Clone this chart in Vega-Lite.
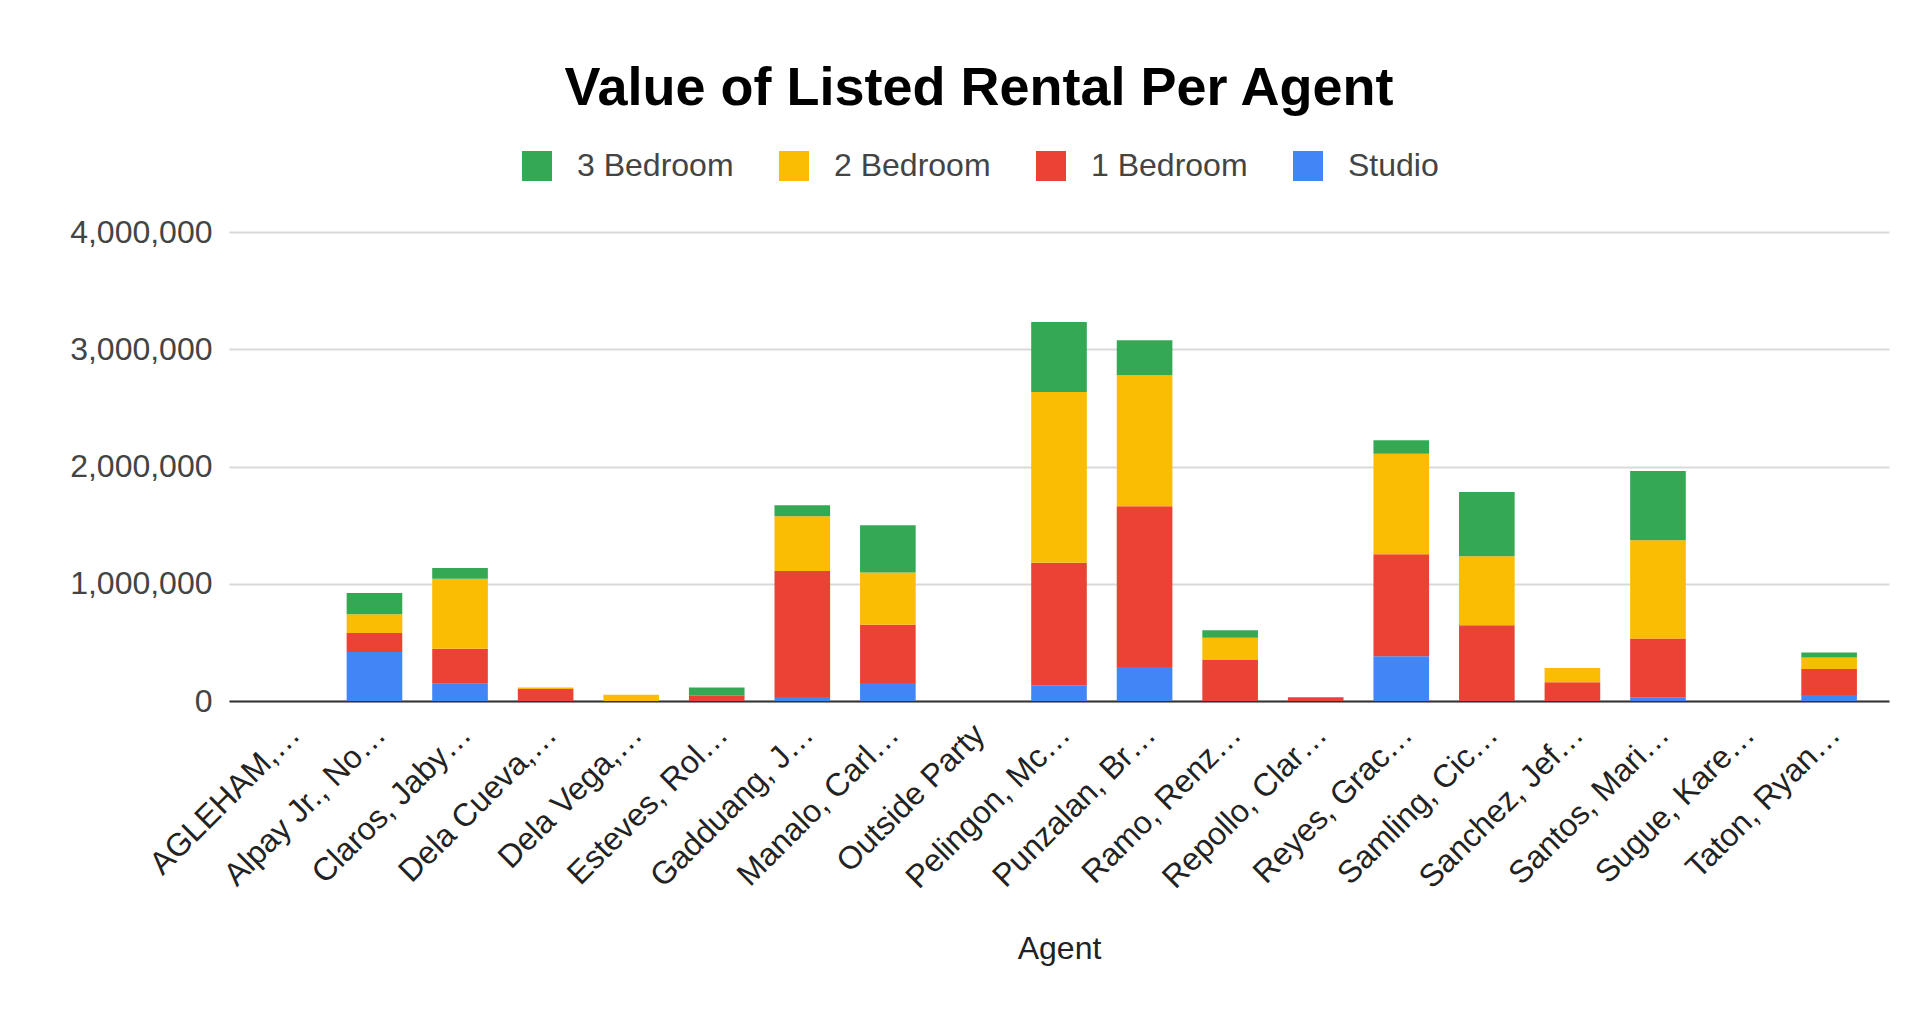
{
  "$schema": "https://vega.github.io/schema/vega-lite/v6.json",
  "autosize": "none",
  "width": 1660,
  "height": 469,
  "padding": {"left": 229, "top": 232, "right": 24, "bottom": 309},
  "background": "#ffffff",
  "title": {
    "text": "Value of Listed Rental Per Agent",
    "font": "Liberation Sans",
    "fontSize": 54,
    "fontWeight": "bold",
    "color": "#000000",
    "anchor": "middle",
    "baseline": "alphabetic",
    "dx": -80,
    "offset": -9
  },
  "data": {
    "values": [
      {"agent": "AGLEHAM,…", "type": "Studio", "bedrooms": 0, "value": 0},
      {"agent": "AGLEHAM,…", "type": "1 Bedroom", "bedrooms": 1, "value": 0},
      {"agent": "AGLEHAM,…", "type": "2 Bedroom", "bedrooms": 2, "value": 0},
      {"agent": "AGLEHAM,…", "type": "3 Bedroom", "bedrooms": 3, "value": 0},
      {"agent": "Alpay Jr., No…", "type": "Studio", "bedrooms": 0, "value": 418000},
      {"agent": "Alpay Jr., No…", "type": "1 Bedroom", "bedrooms": 1, "value": 162000},
      {"agent": "Alpay Jr., No…", "type": "2 Bedroom", "bedrooms": 2, "value": 159000},
      {"agent": "Alpay Jr., No…", "type": "3 Bedroom", "bedrooms": 3, "value": 183000},
      {"agent": "Claros, Jaby…", "type": "Studio", "bedrooms": 0, "value": 148000},
      {"agent": "Claros, Jaby…", "type": "1 Bedroom", "bedrooms": 1, "value": 298000},
      {"agent": "Claros, Jaby…", "type": "2 Bedroom", "bedrooms": 2, "value": 597000},
      {"agent": "Claros, Jaby…", "type": "3 Bedroom", "bedrooms": 3, "value": 91000},
      {"agent": "Dela Cueva,…", "type": "Studio", "bedrooms": 0, "value": 0},
      {"agent": "Dela Cueva,…", "type": "1 Bedroom", "bedrooms": 1, "value": 103000},
      {"agent": "Dela Cueva,…", "type": "2 Bedroom", "bedrooms": 2, "value": 12000},
      {"agent": "Dela Cueva,…", "type": "3 Bedroom", "bedrooms": 3, "value": 0},
      {"agent": "Dela Vega,…", "type": "Studio", "bedrooms": 0, "value": 0},
      {"agent": "Dela Vega,…", "type": "1 Bedroom", "bedrooms": 1, "value": 0},
      {"agent": "Dela Vega,…", "type": "2 Bedroom", "bedrooms": 2, "value": 54000},
      {"agent": "Dela Vega,…", "type": "3 Bedroom", "bedrooms": 3, "value": 0},
      {"agent": "Esteves, Rol…", "type": "Studio", "bedrooms": 0, "value": 0},
      {"agent": "Esteves, Rol…", "type": "1 Bedroom", "bedrooms": 1, "value": 45000},
      {"agent": "Esteves, Rol…", "type": "2 Bedroom", "bedrooms": 2, "value": 0},
      {"agent": "Esteves, Rol…", "type": "3 Bedroom", "bedrooms": 3, "value": 71000},
      {"agent": "Gadduang, J…", "type": "Studio", "bedrooms": 0, "value": 34000},
      {"agent": "Gadduang, J…", "type": "1 Bedroom", "bedrooms": 1, "value": 1075000},
      {"agent": "Gadduang, J…", "type": "2 Bedroom", "bedrooms": 2, "value": 466000},
      {"agent": "Gadduang, J…", "type": "3 Bedroom", "bedrooms": 3, "value": 94000},
      {"agent": "Manalo, Carl…", "type": "Studio", "bedrooms": 0, "value": 154000},
      {"agent": "Manalo, Carl…", "type": "1 Bedroom", "bedrooms": 1, "value": 497000},
      {"agent": "Manalo, Carl…", "type": "2 Bedroom", "bedrooms": 2, "value": 444000},
      {"agent": "Manalo, Carl…", "type": "3 Bedroom", "bedrooms": 3, "value": 403000},
      {"agent": "Outside Party", "type": "Studio", "bedrooms": 0, "value": 0},
      {"agent": "Outside Party", "type": "1 Bedroom", "bedrooms": 1, "value": 0},
      {"agent": "Outside Party", "type": "2 Bedroom", "bedrooms": 2, "value": 0},
      {"agent": "Outside Party", "type": "3 Bedroom", "bedrooms": 3, "value": 0},
      {"agent": "Pelingon, Mc…", "type": "Studio", "bedrooms": 0, "value": 134000},
      {"agent": "Pelingon, Mc…", "type": "1 Bedroom", "bedrooms": 1, "value": 1046000},
      {"agent": "Pelingon, Mc…", "type": "2 Bedroom", "bedrooms": 2, "value": 1455000},
      {"agent": "Pelingon, Mc…", "type": "3 Bedroom", "bedrooms": 3, "value": 597000},
      {"agent": "Punzalan, Br…", "type": "Studio", "bedrooms": 0, "value": 290000},
      {"agent": "Punzalan, Br…", "type": "1 Bedroom", "bedrooms": 1, "value": 1370000},
      {"agent": "Punzalan, Br…", "type": "2 Bedroom", "bedrooms": 2, "value": 1118000},
      {"agent": "Punzalan, Br…", "type": "3 Bedroom", "bedrooms": 3, "value": 298000},
      {"agent": "Ramo, Renz…", "type": "Studio", "bedrooms": 0, "value": 0},
      {"agent": "Ramo, Renz…", "type": "1 Bedroom", "bedrooms": 1, "value": 350000},
      {"agent": "Ramo, Renz…", "type": "2 Bedroom", "bedrooms": 2, "value": 190000},
      {"agent": "Ramo, Renz…", "type": "3 Bedroom", "bedrooms": 3, "value": 63000},
      {"agent": "Repollo, Clar…", "type": "Studio", "bedrooms": 0, "value": 0},
      {"agent": "Repollo, Clar…", "type": "1 Bedroom", "bedrooms": 1, "value": 31000},
      {"agent": "Repollo, Clar…", "type": "2 Bedroom", "bedrooms": 2, "value": 0},
      {"agent": "Repollo, Clar…", "type": "3 Bedroom", "bedrooms": 3, "value": 0},
      {"agent": "Reyes, Grac…", "type": "Studio", "bedrooms": 0, "value": 381000},
      {"agent": "Reyes, Grac…", "type": "1 Bedroom", "bedrooms": 1, "value": 870000},
      {"agent": "Reyes, Grac…", "type": "2 Bedroom", "bedrooms": 2, "value": 858000},
      {"agent": "Reyes, Grac…", "type": "3 Bedroom", "bedrooms": 3, "value": 114000},
      {"agent": "Samling, Cic…", "type": "Studio", "bedrooms": 0, "value": 0},
      {"agent": "Samling, Cic…", "type": "1 Bedroom", "bedrooms": 1, "value": 645000},
      {"agent": "Samling, Cic…", "type": "2 Bedroom", "bedrooms": 2, "value": 589000},
      {"agent": "Samling, Cic…", "type": "3 Bedroom", "bedrooms": 3, "value": 549000},
      {"agent": "Sanchez, Jef…", "type": "Studio", "bedrooms": 0, "value": 0},
      {"agent": "Sanchez, Jef…", "type": "1 Bedroom", "bedrooms": 1, "value": 159000},
      {"agent": "Sanchez, Jef…", "type": "2 Bedroom", "bedrooms": 2, "value": 122000},
      {"agent": "Sanchez, Jef…", "type": "3 Bedroom", "bedrooms": 3, "value": 0},
      {"agent": "Santos, Mari…", "type": "Studio", "bedrooms": 0, "value": 31000},
      {"agent": "Santos, Mari…", "type": "1 Bedroom", "bedrooms": 1, "value": 501000},
      {"agent": "Santos, Mari…", "type": "2 Bedroom", "bedrooms": 2, "value": 838000},
      {"agent": "Santos, Mari…", "type": "3 Bedroom", "bedrooms": 3, "value": 592000},
      {"agent": "Sugue, Kare…", "type": "Studio", "bedrooms": 0, "value": 0},
      {"agent": "Sugue, Kare…", "type": "1 Bedroom", "bedrooms": 1, "value": 0},
      {"agent": "Sugue, Kare…", "type": "2 Bedroom", "bedrooms": 2, "value": 0},
      {"agent": "Sugue, Kare…", "type": "3 Bedroom", "bedrooms": 3, "value": 0},
      {"agent": "Taton, Ryan…", "type": "Studio", "bedrooms": 0, "value": 51000},
      {"agent": "Taton, Ryan…", "type": "1 Bedroom", "bedrooms": 1, "value": 222000},
      {"agent": "Taton, Ryan…", "type": "2 Bedroom", "bedrooms": 2, "value": 99000},
      {"agent": "Taton, Ryan…", "type": "3 Bedroom", "bedrooms": 3, "value": 42000}
    ]
  },
  "mark": {"type": "bar"},
  "encoding": {
    "x": {
      "field": "agent",
      "type": "nominal",
      "sort": null,
      "scale": {"paddingInner": 0.35, "paddingOuter": 0.375},
      "axis": {
        "title": "Agent",
        "titleFont": "Liberation Sans",
        "titleFontSize": 32,
        "titleFontWeight": "normal",
        "titleColor": "#222222",
        "titleBaseline": "alphabetic",
        "titleY": 257,
        "labelAngle": -45,
        "labelAlign": "right",
        "labelBaseline": "middle",
        "labelFont": "Liberation Sans",
        "labelFontSize": 32,
        "labelColor": "#222222",
        "labelPadding": 28,
        "labelOffset": 6,
        "labelOverlap": false,
        "labelLimit": 0,
        "ticks": false,
        "domain": true,
        "domainColor": "#333333",
        "domainWidth": 2,
        "grid": false
      }
    },
    "y": {
      "field": "value",
      "type": "quantitative",
      "aggregate": "sum",
      "stack": "zero",
      "scale": {"domain": [0, 4000000], "nice": false},
      "axis": {
        "title": null,
        "values": [0, 1000000, 2000000, 3000000, 4000000],
        "format": ",d",
        "labelFont": "Liberation Sans",
        "labelFontSize": 32,
        "labelColor": "#444444",
        "labelPadding": 17,
        "ticks": false,
        "domain": false,
        "grid": true,
        "gridColor": "#d9d9d9",
        "gridWidth": 2
      }
    },
    "color": {
      "field": "type",
      "type": "nominal",
      "scale": {
        "domain": ["3 Bedroom", "2 Bedroom", "1 Bedroom", "Studio"],
        "range": ["#34A853", "#FBBC04", "#EA4335", "#4285F4"]
      },
      "legend": {
        "title": null,
        "orient": "none",
        "legendX": 292,
        "legendY": -82,
        "direction": "horizontal",
        "symbolType": "square",
        "symbolSize": 900,
        "symbolStrokeWidth": 0,
        "symbolOpacity": 1,
        "labelFont": "Liberation Sans",
        "labelFontSize": 32,
        "labelColor": "#444444",
        "labelOffset": 24,
        "columnPadding": 44
      }
    },
    "order": {"field": "bedrooms", "type": "quantitative", "sort": "ascending"}
  },
  "config": {
    "view": {"stroke": null}
  }
}
